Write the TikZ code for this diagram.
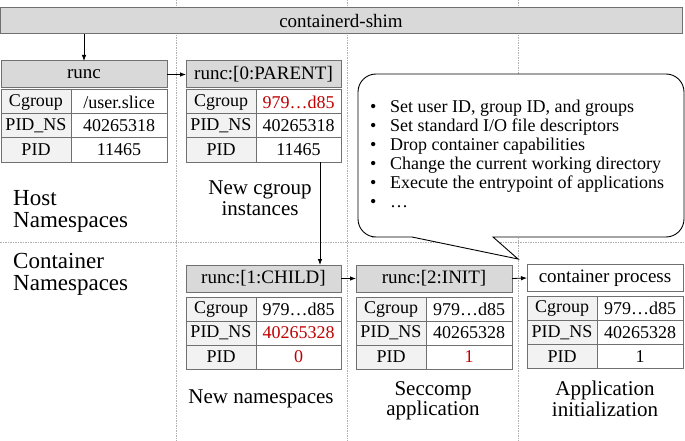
\documentclass[tikz,border=0pt]{standalone}
\usepackage{fontspec}
\setmainfont{Liberation Serif}
\usetikzlibrary{arrows.meta, positioning, calc}
\definecolor{hdrgray}{HTML}{D9D9D9}
\definecolor{keygray}{HTML}{F2F2F2}
\definecolor{edgegray}{HTML}{707070}
\definecolor{gridgray}{HTML}{B0B0B0}
\definecolor{darkred}{HTML}{C00000}

\tikzset{
  hdr/.style={draw=edgegray, fill=hdrgray, line width=1pt, inner sep=0pt, outer sep=0pt, minimum height=27pt, font=\fontsize{19}{20}\selectfont},
  keycell/.style={draw=edgegray, fill=keygray, line width=1pt, inner sep=0pt, outer sep=0pt, minimum width=70pt, minimum height=24pt, font=\fontsize{18}{19}\selectfont},
  valcell/.style={keycell, fill=white},
  flow/.style={-{Latex[length=6pt,width=4.5pt]}, line width=0.8pt},
  gridline/.style={gridgray, line width=0.5pt, dash pattern=on 1.5pt off 1pt},
  lbl/.style={inner sep=0pt, align=center, font=\fontsize{21}{20.5}\selectfont},
  nslbl/.style={inner sep=0pt, align=left, anchor=west, font=\fontsize{23}{22}\selectfont},
  callout/.style={draw=black, fill=white, line width=0.9pt}
}

\begin{document}
\begin{tikzpicture}[x=1pt, y=-1pt]
	\useasboundingbox (0,0) rectangle (685,441);
	
	% Dotted grid
	\foreach \x in {176,347,518}
	\draw[gridline] (\x,0) -- (\x,441);
	\draw[gridline] (0,242) -- (685,242);
	
	% Process headers
	\node[hdr, minimum width=682pt, minimum height=26pt] (shim) at (341,21) {containerd-shim};
	\node[hdr, minimum width=166pt] (runc) at (84,74.5) {runc};
	\node[hdr, minimum width=155pt] (parent) at (263.5,74.5) {runc:[0:PARENT]};
	\node[hdr, minimum width=155pt] (child) at (263.5,278.5) {runc:[1:CHILD]};
	\node[hdr, minimum width=156pt] (init) at (434,278.5) {runc:[2:INIT]};
	\node[hdr, minimum width=156pt, fill=white] (cproc) at (605,278) {container process};
	
	% Tables (name/value width/gap/cgroup/pid ns/pid)
	\foreach \p/\w/\g/\cg/\ns/\pid in {
		runc/96/2/{/user.slice}/40265318/11465,
		parent/85/2/{\color{darkred}979…d85}/40265318/11465,
		child/85/5/979…d85/{\color{darkred}40265328}/{\color{darkred}0},
		init/86/5/979…d85/40265328/{\color{darkred}1},
		cproc/86/5/979…d85/40265328/1}
	{
		\node[keycell, anchor=north west] (\p-k1) at ([yshift=-\g pt]\p.south west) {Cgroup};
		\node[keycell, below=0pt of \p-k1] (\p-k2) {PID\_NS};
		\node[keycell, below=0pt of \p-k2] (\p-k3) {PID};
		\node[valcell, minimum width=\w pt, right=0pt of \p-k1] (\p-v1) {\cg};
		\node[valcell, minimum width=\w pt, right=0pt of \p-k2] (\p-v2) {\ns};
		\node[valcell, minimum width=\w pt, right=0pt of \p-k3] (\p-v3) {\pid};
	}
	
	% Flow
	\draw[flow] (shim.south -| runc.north) -- (runc.north);
	\draw[flow] (runc.east) -- (parent.west);
	\draw[flow] ([xshift=-21pt]parent-v3.south east) -- ([xshift=-21pt]child.north east);
	\draw[flow] (child.east) -- (init.west);
	\draw[flow] (init.east) -- (cproc.west);
	
	% Namespace labels
	\node[nslbl] (hostns) at (13,211) {Host\\Namespaces};
	\node[nslbl] (contns) at (13,274) {Container\\Namespaces};
	
	% Step notes
	\node[lbl] (cgnote) at (260,198) {New cgroup\\instances};
	\node[lbl] (nsnote) at (261,398.5) {New namespaces};
	\node[lbl] (scnote) at (433,401) {Seccomp\\application};
	\node[lbl] (initnote) at (605,399) {Application\\initialization};
	
	% Callout
	\draw[callout] (412,237) -- (518,259) -- (493,237) -- (600,237) [rounded corners=18pt] -- (684,237) -- (684,74) -- (358,74) -- (358,237) -- (390,237) [sharp corners] -- cycle;
	\node[anchor=base west, inner sep=0pt, font=\fontsize{18}{19}\selectfont] (steps) at (370,113)
	{\begin{tabular}[t]{@{}l@{\hspace{13.7pt}}l@{}}
			• & Set user ID, group ID, and groups\\
			• & Set standard I/O file descriptors\\
			• & Drop container capabilities\\
			• & Change the current working directory\\
			• & Execute the entrypoint of applications\\
			• & …
	\end{tabular}};
\end{tikzpicture}
\end{document}
